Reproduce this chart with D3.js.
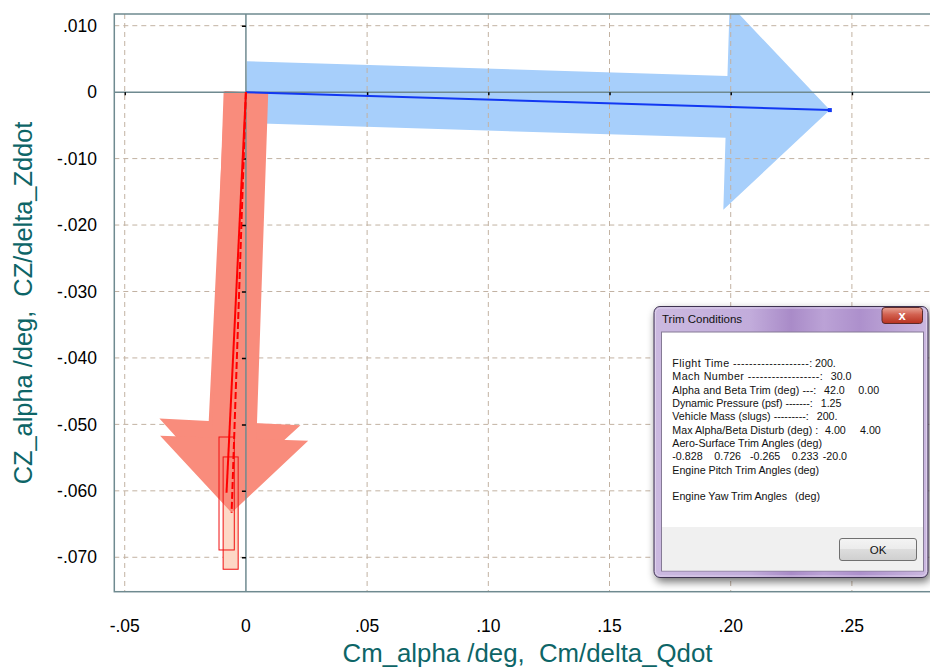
<!DOCTYPE html>
<html>
<head>
<meta charset="utf-8">
<script src="https://cdn.jsdelivr.net/npm/d3@7"></script>
<style>
  html, body { margin: 0; padding: 0; background: #ffffff; }
  svg { display: block; }
  text { font-family: "Liberation Sans", Arial, sans-serif; white-space: pre; }
</style>
</head>
<body>
<svg id="chart" width="930" height="668"></svg>
<script>
// Axis ticks and their printed labels
const xTicks = [-0.05, 0, 0.05, 0.10, 0.15, 0.20, 0.25];
const xTickLabels = ["-.05", "0", ".05", ".10", ".15", ".20", ".25"];
const yTicks = [0.010, 0, -0.010, -0.020, -0.030, -0.040, -0.050, -0.060, -0.070];
const yTickLabels = [".010", "0", "-.010", "-.020", "-.030", "-.040", "-.050", "-.060", "-.070"];

// Sensitivity vectors, all starting at the origin (Cm, CZ)
const vectorNames = ["Cm_alpha", "CZ_alpha", "CZ/delta_Zddot"];
const vectorEndX = [0.2409, -0.0080, -0.0059];
const vectorEndY = [-0.0027, -0.0603, -0.0633];

// Uncertainty boxes around the CZ vector tips
const boxX0 = [-0.0111, -0.0094];
const boxX1 = [-0.0048, -0.0032];
const boxY0 = [-0.0689, -0.0718];
const boxY1 = [-0.0519, -0.0549];

// Trim Conditions dialog contents
const dialogLabels = [
  "Flight Time -------------------:",
  "Mach Number ------------------:",
  "Alpha and Beta Trim (deg) ---:",
  "Dynamic Pressure (psf) -------:",
  "Vehicle Mass (slugs) ---------:",
  "Max Alpha/Beta Disturb (deg) :",
  "Aero-Surface Trim Angles (deg)",
  "",
  "Engine Pitch Trim Angles (deg)",
  "",
  "Engine Yaw Trim Angles"
];
const dialogValues = [
  ["200."], ["30.0"], ["42.0", "0.00"], ["1.25"], ["200."], ["4.00", "4.00"],
  [], ["-0.828", "0.726", "-0.265", "0.233", "-20.0"], [], [], ["(deg)"]
];

const svg = d3.select("#chart");

const x = d3.scaleLinear().domain([-0.0543, 0.30]).range([114.3, 973.1]);
const y = d3.scaleLinear().domain([0.01176, -0.07518]).range([14, 591.7]);

const frameColor = "#6f8a90";
const gridColor = "#c2b2a2";

svg.append("defs").html(`
  <clipPath id="plotClip"><rect x="114.3" y="14" width="860" height="577.7"/></clipPath>
  <filter id="dlgShadow" x="-10%" y="-10%" width="130%" height="130%">
    <feGaussianBlur in="SourceAlpha" stdDeviation="4"/>
    <feOffset dx="2" dy="4" result="b"/>
    <feComponentTransfer><feFuncA type="linear" slope="0.55"/></feComponentTransfer>
    <feMerge><feMergeNode/><feMergeNode in="SourceGraphic"/></feMerge>
  </filter>
  <linearGradient id="frameGrad" x1="0" y1="0" x2="1" y2="0">
    <stop offset="0" stop-color="#cbb9e0"/>
    <stop offset="0.35" stop-color="#c2acdb"/>
    <stop offset="0.5" stop-color="#a98bc8"/>
    <stop offset="0.62" stop-color="#bba2d6"/>
    <stop offset="0.75" stop-color="#ad90cc"/>
    <stop offset="1" stop-color="#cbb8e0"/>
  </linearGradient>
  <linearGradient id="closeGrad" x1="0" y1="0" x2="0" y2="1">
    <stop offset="0" stop-color="#e8a395"/>
    <stop offset="0.45" stop-color="#d2604f"/>
    <stop offset="1" stop-color="#b8311f"/>
  </linearGradient>
  <linearGradient id="okGrad" x1="0" y1="0" x2="0" y2="1">
    <stop offset="0" stop-color="#f4f4f4"/>
    <stop offset="0.5" stop-color="#ebebeb"/>
    <stop offset="0.5" stop-color="#dddddd"/>
    <stop offset="1" stop-color="#cfcfcf"/>
  </linearGradient>
`);

const plot = svg.append("g").attr("clip-path", "url(#plotClip)");

// Block arrow whose widths scale with its own length
function arrowPath(i) {
  const x0 = x(0), y0 = y(0), x1 = x(vectorEndX[i]), y1 = y(vectorEndY[i]);
  const dx = x1 - x0, dy = y1 - y0, L = Math.hypot(dx, dy);
  const ux = dx / L, uy = dy / L, nx = -uy, ny = ux;
  const w = 0.053 * L, h = 0.176 * L, hl = 0.177 * L;
  const bx = x1 - ux * hl, by = y1 - uy * hl;
  const pts = [
    [x0 + nx * w, y0 + ny * w], [bx + nx * w, by + ny * w], [bx + nx * h, by + ny * h],
    [x1, y1],
    [bx - nx * h, by - ny * h], [bx - nx * w, by - ny * w], [x0 - nx * w, y0 - ny * w]
  ];
  return d3.line()(pts) + "Z";
}

// Cm arrow (under the grid)
plot.append("path").attr("d", arrowPath(0)).attr("fill", "#a7cffb");

// Grid
const gridX = xTicks.filter(v => v !== 0);
const gridY = yTicks.filter(v => v !== 0);
plot.selectAll(".gx").data(gridX).join("line")
  .attr("x1", d => x(d)).attr("x2", d => x(d)).attr("y1", 14).attr("y2", 591.7)
  .attr("stroke", gridColor).attr("stroke-width", 1).attr("stroke-dasharray", "5,4");
plot.selectAll(".gy").data(gridY).join("line")
  .attr("x1", 114.3).attr("x2", 975).attr("y1", d => y(d)).attr("y2", d => y(d))
  .attr("stroke", gridColor).attr("stroke-width", 1).attr("stroke-dasharray", "5,4");

// Box fill
plot.append("rect")
  .attr("x", x(boxX0[1])).attr("y", y(boxY1[1]))
  .attr("width", x(boxX1[1]) - x(boxX0[1])).attr("height", y(boxY0[1]) - y(boxY1[1]))
  .attr("fill", "#fdd8c6");

// CZ arrows
[1, 2].forEach(i => plot.append("path").attr("d", arrowPath(i)).attr("fill", "#f98c7c"));

// Box outlines
boxX0.forEach((_, i) => plot.append("rect")
  .attr("x", x(boxX0[i])).attr("y", y(boxY1[i]))
  .attr("width", x(boxX1[i]) - x(boxX0[i])).attr("height", y(boxY0[i]) - y(boxY1[i]))
  .attr("fill", "none").attr("stroke", "#f01010").attr("stroke-width", 1));

// Zero axes
plot.append("line").attr("x1", x(0)).attr("x2", x(0)).attr("y1", 14).attr("y2", 591.7)
  .attr("stroke", frameColor).attr("stroke-width", 1.5);
plot.append("line").attr("x1", 114.3).attr("x2", 975).attr("y1", y(0)).attr("y2", y(0))
  .attr("stroke", frameColor).attr("stroke-width", 1.5);

// Small black ticks where the grid meets the zero axes
plot.append("g").attr("transform", `translate(${x(0)},0)`)
  .call(d3.axisLeft(y).tickValues(gridY).tickSize(4).tickFormat(""))
  .call(g => g.select(".domain").remove())
  .call(g => g.selectAll("line").attr("stroke", "#000").attr("stroke-width", 1.5));
plot.append("g").attr("transform", `translate(0,${y(0)})`)
  .call(d3.axisBottom(x).tickValues(gridX).tickSize(3).tickFormat(""))
  .call(g => g.select(".domain").remove())
  .call(g => g.selectAll("line").attr("stroke", "#000").attr("stroke-width", 1.5));

// Vector traces
const lineStyles = [
  { c: "#1238f2", dash: null },
  { c: "#ff0000", dash: null },
  { c: "#ff0000", dash: "7,3" }
];
vectorEndX.forEach((_, i) => {
  plot.append("path")
    .attr("d", d3.line()([[x(0), y(0)], [x(vectorEndX[i]), y(vectorEndY[i])]]))
    .attr("fill", "none").attr("stroke", lineStyles[i].c).attr("stroke-width", 2)
    .attr("stroke-dasharray", lineStyles[i].dash);
});
plot.append("rect")
  .attr("x", x(vectorEndX[0]) - 2).attr("y", y(vectorEndY[0]) - 2)
  .attr("width", 4).attr("height", 4).attr("fill", "#1238f2");

// Frame
svg.append("rect").attr("x", 114.3).attr("y", 14).attr("width", 860).attr("height", 577.7)
  .attr("fill", "none").attr("stroke", frameColor).attr("stroke-width", 1.5);

// Tick labels
svg.selectAll(".xl").data(xTicks).join("text")
  .attr("x", d => x(d)).attr("y", 632).attr("text-anchor", "middle")
  .attr("font-size", 17.5).attr("fill", "#000")
  .text((d, i) => xTickLabels[i]);
svg.selectAll(".yl").data(yTicks).join("text")
  .attr("x", 97).attr("y", d => y(d) + 6.2).attr("text-anchor", "end")
  .attr("font-size", 17.5).attr("fill", "#000")
  .text((d, i) => yTickLabels[i]);

// Axis titles
svg.append("text").attr("x", 527.5).attr("y", 662).attr("text-anchor", "middle")
  .attr("font-size", 25.8).attr("fill", "#0d6567")
  .text("Cm_alpha /deg,  Cm/delta_Qdot");
svg.append("text").attr("transform", "translate(32,303) rotate(-90)").attr("text-anchor", "middle")
  .attr("font-size", 25.4).attr("fill", "#0d6567")
  .text("CZ_alpha /deg,  CZ/delta_Zddot");

// Trim Conditions dialog
const dlg = svg.append("g").attr("class", "dlg");
dlg.append("rect").attr("x", 654).attr("y", 306.5).attr("width", 274).attr("height", 271)
  .attr("rx", 6).attr("fill", "url(#frameGrad)").attr("stroke", "#3d3350").attr("stroke-width", 1)
  .attr("filter", "url(#dlgShadow)");
dlg.append("rect").attr("x", 655.5).attr("y", 308).attr("width", 271).attr("height", 268)
  .attr("rx", 5).attr("fill", "none").attr("stroke", "#e6dcf0").attr("stroke-width", 1).attr("opacity", 0.7);
dlg.append("text").attr("x", 662).attr("y", 323).attr("font-size", 11.5).attr("fill", "#111")
  .text("Trim Conditions");
dlg.append("rect").attr("x", 882).attr("y", 307.5).attr("width", 40.5).attr("height", 16)
  .attr("rx", 3).attr("fill", "url(#closeGrad)").attr("stroke", "#5c2a2a").attr("stroke-width", 1);
dlg.append("text").attr("x", 902.2).attr("y", 320).attr("text-anchor", "middle")
  .attr("font-size", 13).attr("font-weight", "bold").attr("fill", "#fff").text("x");
dlg.append("rect").attr("x", 661.5).attr("y", 332).attr("width", 262).attr("height", 239)
  .attr("fill", "#ffffff").attr("stroke", "#857a95").attr("stroke-width", 1);
dlg.append("rect").attr("x", 662).attr("y", 527).attr("width", 261).attr("height", 43.5)
  .attr("fill", "#f0f0f0");
dlg.append("rect").attr("x", 839.5).attr("y", 538.5).attr("width", 77).attr("height", 22)
  .attr("rx", 2.5).attr("fill", "url(#okGrad)").attr("stroke", "#707070").attr("stroke-width", 1);
dlg.append("text").attr("x", 878).attr("y", 553.5).attr("text-anchor", "middle")
  .attr("font-size", 11.5).attr("fill", "#111").text("OK");

// Label widths (to the colon) and value column positions inside the dialog
const labelWidths = [140, 150.5, 144, 140.5, 136.5, 146, 0, 0, 0, 0, 0];
const valueCols = [[815], [830.7], [824, 858.3], [820.7], [816.7], [825, 860], [],
  [672.3, 714.3, 750, 791.7, 822.7], [], [], [795]];
dialogLabels.forEach((lab, i) => {
  const by = 367 + i * 13.33;
  if (lab) {
    const t = dlg.append("text").attr("x", 672.3).attr("y", by).attr("font-size", 10.7)
      .attr("fill", "#111").text(lab);
    if (labelWidths[i]) t.attr("textLength", labelWidths[i]).attr("lengthAdjust", "spacing");
  }
  dialogValues[i].forEach((v, j) => dlg.append("text")
    .attr("x", valueCols[i][j]).attr("y", by).attr("font-size", 10.7).attr("fill", "#111").text(v));
});
</script>
</body>
</html>
